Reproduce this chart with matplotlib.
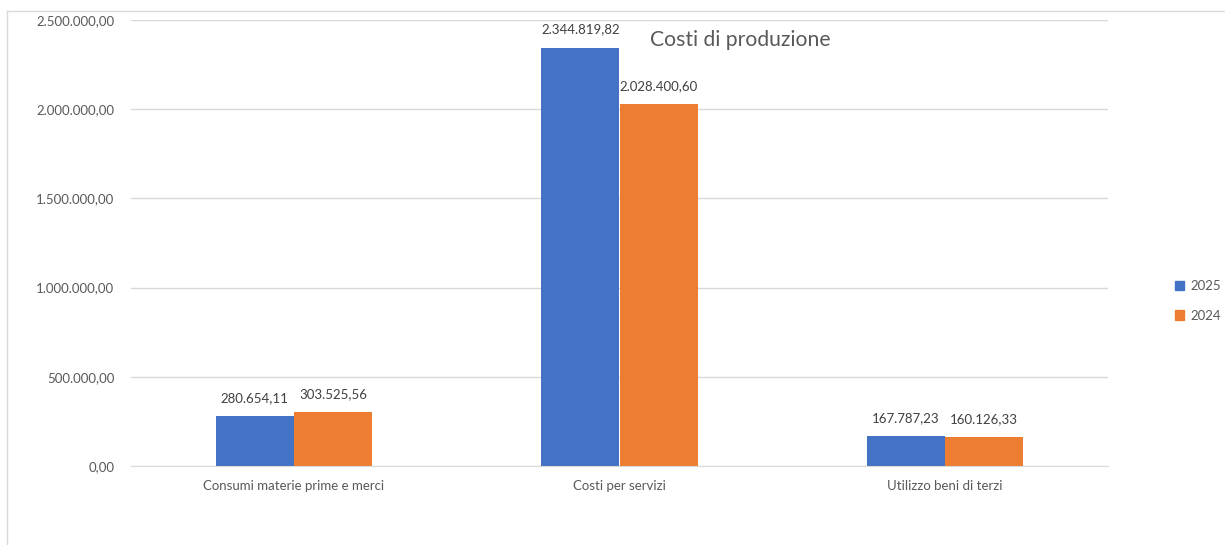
import matplotlib.pyplot as plt
from matplotlib.patches import Patch
import numpy as np

categories = ["Consumi materie prime e merci", "Costi per servizi", "Utilizzo beni di terzi"]
values_2025 = [280654.11, 2344819.82, 167787.23]
values_2024 = [303525.56, 2028400.60, 160126.33]
series_names = ["2025", "2024"]

BLUE = "#4472C4"
ORANGE = "#ED7D31"
TEXT = "#595959"
GRID = "#D9D9D9"


def it_fmt(v):
    s = f"{v:,.2f}"
    return s.replace(",", "X").replace(".", ",").replace("X", ".")


plt.rcParams["font.family"] = ["Lato", "DejaVu Sans"]

fig = plt.figure(figsize=(12.25, 5.45), dpi=100)
ax = fig.add_axes([131 / 1225, 1 - 466 / 545, (1108 - 131) / 1225, (466 - 20) / 545])

x = np.arange(len(categories))
w = 0.24
b1 = ax.bar(x - w / 2, values_2025, w, color=BLUE, zorder=2, linewidth=0)
b2 = ax.bar(x + w / 2, values_2024, w, color=ORANGE, zorder=2, linewidth=0)

for bars in (b1, b2):
    for rect in bars:
        h = rect.get_height()
        ax.annotate(it_fmt(h), (rect.get_x() + rect.get_width() / 2, h),
                    xytext=(0, 13), textcoords="offset points",
                    ha="center", va="center", fontsize=9.5, color="#404040")

ax.set_xlim(-0.5, len(categories) - 0.5)
ax.set_ylim(0, 2500000)
ax.set_yticks(np.arange(0, 2500001, 500000))
ax.set_yticklabels([it_fmt(t) for t in ax.get_yticks()])
ax.set_xticks(x)
ax.set_xticklabels(categories)
ax.tick_params(axis="both", length=0, colors=TEXT, labelsize=9.5)
ax.tick_params(axis="y", pad=12)
ax.tick_params(axis="x", pad=10)
ax.grid(axis="y", color=GRID, linewidth=1, zorder=0)
for side in ("top", "right", "left"):
    ax.spines[side].set_visible(False)
ax.spines["bottom"].set_color(GRID)

fig.text(740 / 1225, 1 - 40 / 545, "Costi di produzione", ha="center", va="center",
         fontsize=15.2, color=TEXT)

handles = [Patch(color=BLUE), Patch(color=ORANGE)]
fig.legend(handles, series_names, loc="center left", bbox_to_anchor=(1163 / 1225, 1 - 301 / 545),
           frameon=False, fontsize=9.5, labelcolor=TEXT, handlelength=0.7, handleheight=0.7,
           handletextpad=0.5, labelspacing=1.3)

# chart frame (partially visible)
fig.add_artist(plt.Line2D([7 / 1225, 7 / 1225], [0, 1 - 11 / 545], color=GRID, lw=1))
fig.add_artist(plt.Line2D([7 / 1225, 1], [1 - 11 / 545, 1 - 11 / 545], color=GRID, lw=1))

fig.savefig("out.png", dpi=100)
